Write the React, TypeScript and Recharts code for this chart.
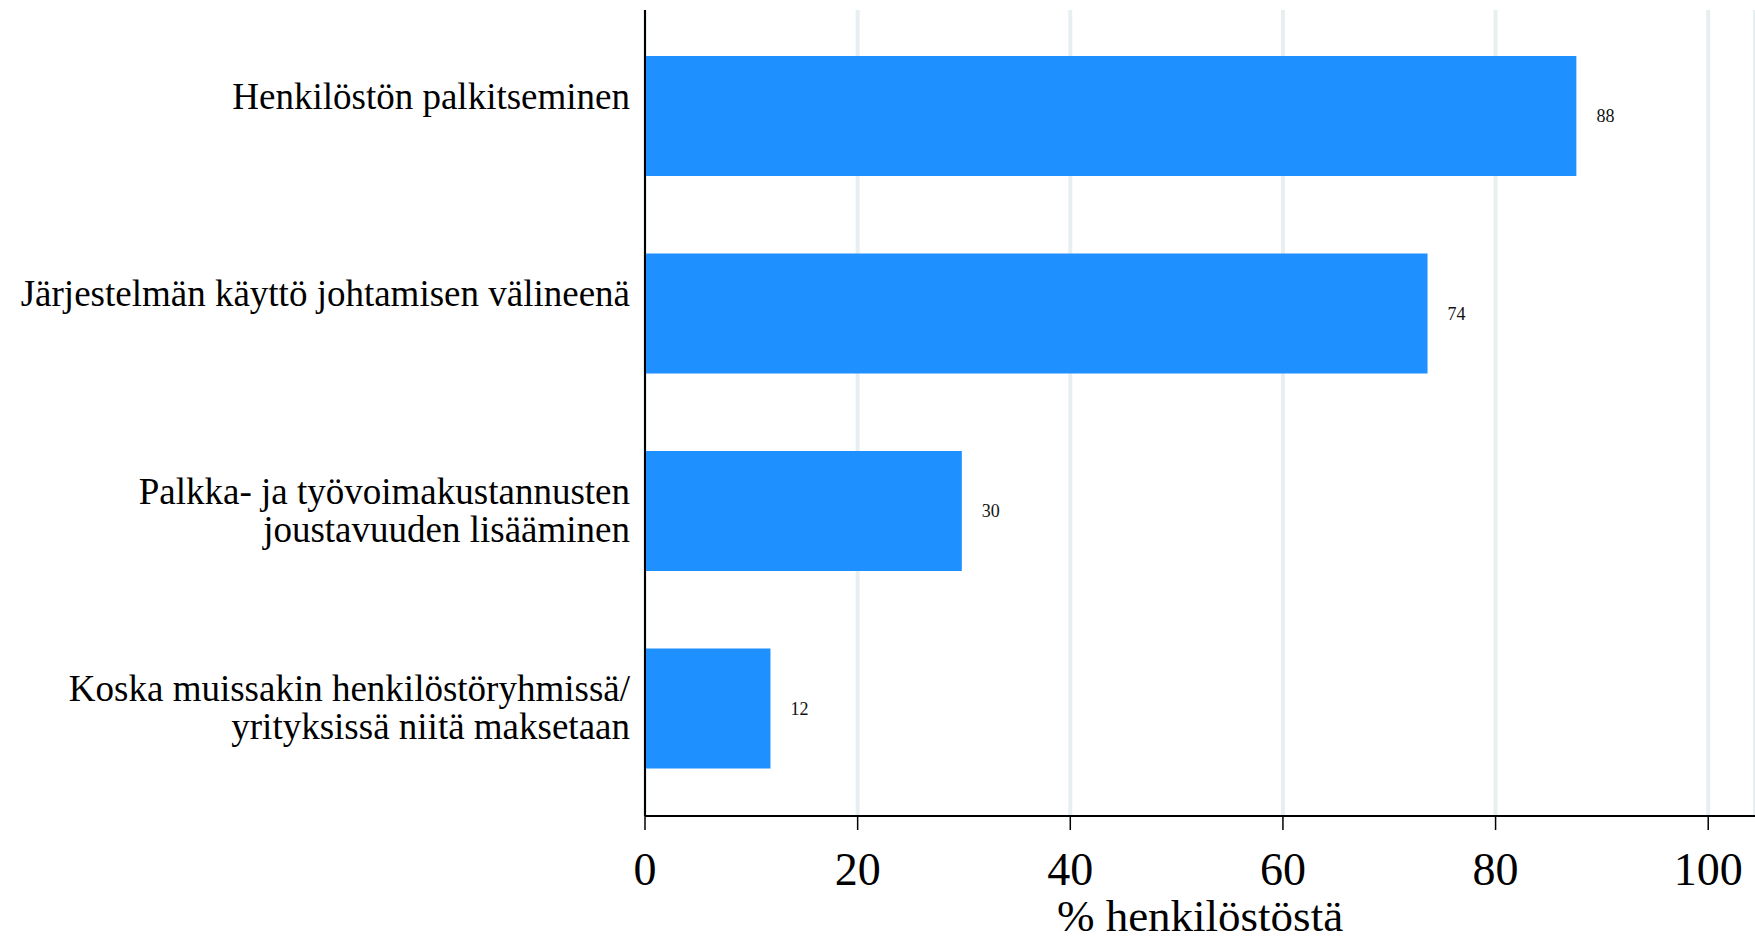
import { BarChart, Bar, XAxis, YAxis, CartesianGrid, LabelList, Label } from 'recharts';

const categories = [
  'Henkilöstön palkitseminen',
  'Järjestelmän käyttö johtamisen välineenä',
  'Palkka- ja työvoimakustannusten\njoustavuuden lisääminen',
  'Koska muissakin henkilöstöryhmissä/\nyrityksissä niitä maksetaan',
];
const shares = [87.6, 73.6, 29.8, 11.8];
const xTicks = [0, 20, 40, 60, 80, 100];
const xTitle = '% henkilöstöstä';

const data = categories.map((name, i) => ({ name, value: shares[i] }));

const FONT = '"Liberation Serif", "Times New Roman", serif';

// labels always take two lines; a one-line label sits on the upper line
const CategoryTick = ({ x, y, payload }: any) => {
  const lines = String(payload.value).split('\n');
  const lineHeight = 38;
  const first = -lineHeight / 2;
  return (
    <text x={x} y={y} textAnchor="end" fontFamily={FONT} fontSize={37} fill="#000">
      {lines.map((line, i) => (
        <tspan key={i} x={x} dy={i === 0 ? first + 12 : lineHeight}>
          {line}
        </tspan>
      ))}
    </text>
  );
};

export default function App() {
  return (
    <div style={{ position: 'absolute', left: 0, top: 0, background: '#fff' }}>
      <BarChart
        width={1755}
        height={941}
        data={data}
        layout="vertical"
        margin={{ top: 10, right: 0, left: 0, bottom: 0 }}
        barSize={120}
      >
        <CartesianGrid horizontal={false} stroke="#e7eff1" strokeWidth={4} />
        <XAxis
          type="number"
          domain={[0, 104.4]}
          ticks={xTicks}
          allowDataOverflow
          height={125}
          axisLine={{ stroke: '#000', strokeWidth: 2 }}
          tickLine={{ stroke: '#000', strokeWidth: 1.5 }}
          tickSize={14}
          tickMargin={22}
          tick={{ fill: '#000', fontSize: 46, fontFamily: FONT }}
        >
          <Label
            value={xTitle}
            position="insideBottom"
            offset={10}
            style={{ fill: '#000', fontSize: 45, fontFamily: FONT }}
          />
        </XAxis>
        <YAxis
          type="category"
          dataKey="name"
          width={645}
          padding={{ top: 7, bottom: 9 }}
          axisLine={{ stroke: '#000', strokeWidth: 2 }}
          tickLine={false}
          tickSize={0}
          tickMargin={15}
          tick={<CategoryTick />}
          interval={0}
        />
        <Bar dataKey="value" fill="#1e90ff" isAnimationActive={false}>
          <LabelList
            dataKey="value"
            position="right"
            offset={20}
            formatter={(v: any) => Math.round(Number(v))}
            style={{ fill: '#111', fontSize: 18, fontFamily: FONT }}
          />
        </Bar>
      </BarChart>
    </div>
  );
}
